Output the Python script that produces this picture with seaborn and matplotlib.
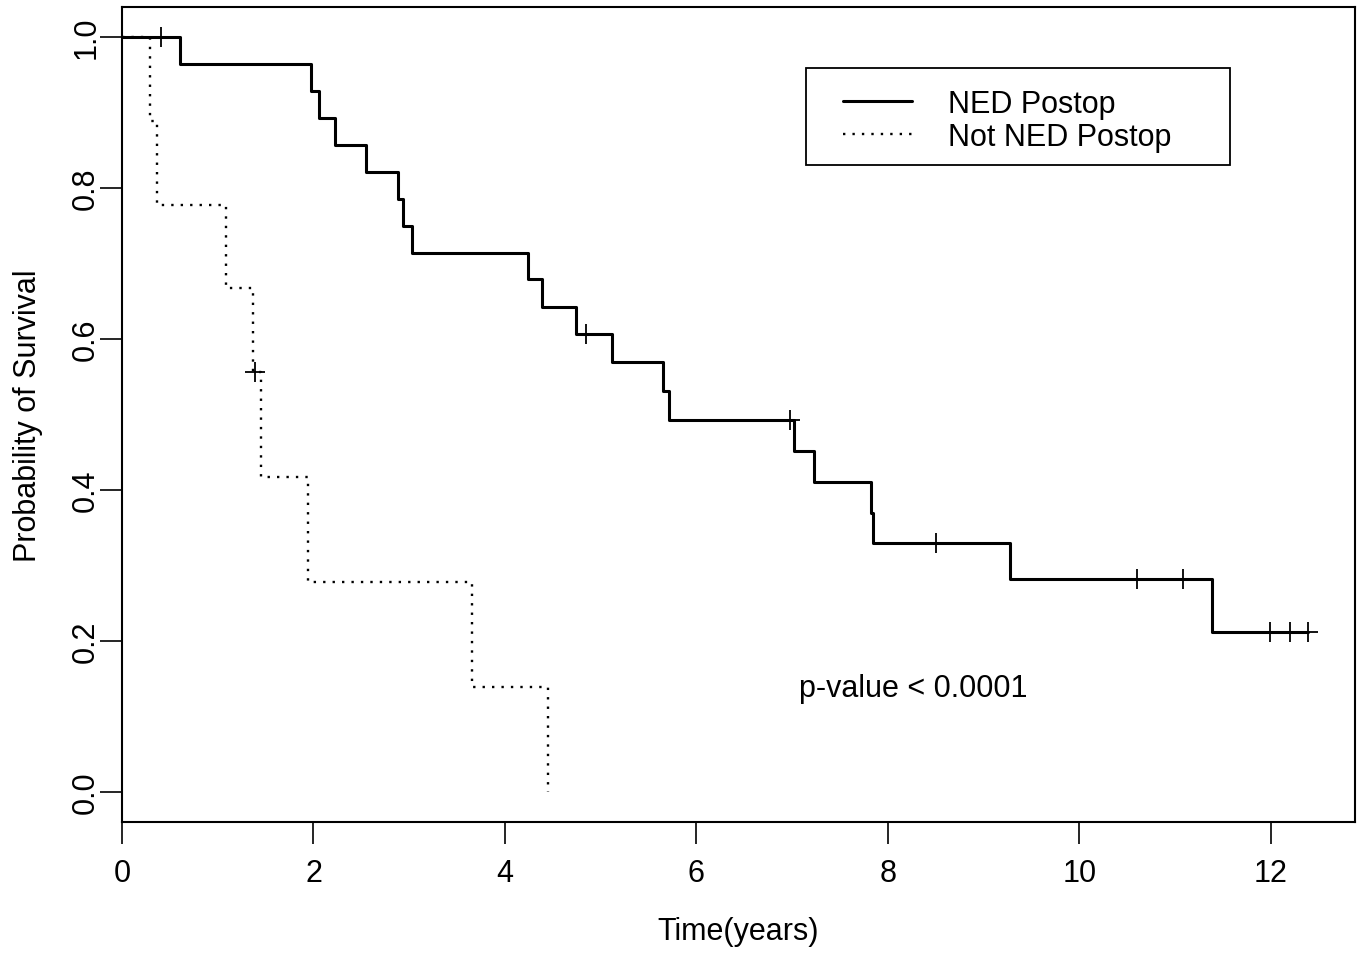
import numpy as np
import pandas as pd
import matplotlib
matplotlib.use("Agg")
import matplotlib.pyplot as plt
from matplotlib.patches import Rectangle
import seaborn as sns

# ---- data ----
ned_times = [0.0, 0.61, 1.97, 2.06, 2.22, 2.55, 2.88, 2.94, 3.03, 4.24, 4.39, 4.74,
             5.12, 5.65, 5.71, 7.02, 7.23, 7.82, 7.85, 9.28, 11.39, 12.39]
ned_surv = [1.0, 0.964, 0.929, 0.893, 0.857, 0.821, 0.786, 0.750, 0.714, 0.679, 0.643, 0.607,
            0.569, 0.531, 0.493, 0.452, 0.410, 0.369, 0.330, 0.282, 0.212, 0.212]
ned_censor = [0.41, 4.85, 6.98, 8.50, 10.60, 11.08, 11.99, 12.20, 12.39]

notned_times = [0.0, 0.29, 0.37, 1.09, 1.37, 1.45, 1.94, 3.66, 4.45]
notned_surv = [1.0, 0.889, 0.778, 0.667, 0.556, 0.417, 0.278, 0.139, 0.0]
notned_censor = [1.39]

x_ticks = [0, 2, 4, 6, 8, 10, 12]
y_ticks = [0.0, 0.2, 0.4, 0.6, 0.8, 1.0]
series_names = ["NED Postop", "Not NED Postop"]


def step_value(times, surv, t):
    idx = np.searchsorted(np.asarray(times), t, side="right") - 1
    return np.asarray(surv)[idx]


sns.set_style("white")
plt.rcParams["font.family"] = ["Liberation Sans", "DejaVu Sans"]
plt.rcParams["text.color"] = "black"
plt.rcParams["axes.labelcolor"] = "black"
plt.rcParams["xtick.color"] = "black"
plt.rcParams["ytick.color"] = "black"

FS = 22
W, H = 1363, 954
L, R, T, B = 122, 1355, 8, 823

fig = plt.figure(figsize=(W / 100, H / 100), dpi=100)
ax = fig.add_axes([L / W, 1 - B / H, (R - L) / W, (B - T) / H])


def ax_x(px):
    return (px - L) / (R - L)


def ax_y(py):
    return 1 - (py - T) / (B - T)


df_ned = pd.DataFrame({"t": ned_times, "s": ned_surv})
df_not = pd.DataFrame({"t": notned_times, "s": notned_surv})

sns.lineplot(data=df_ned, x="t", y="s", ax=ax, color="black", lw=2.2,
             drawstyle="steps-post", estimator=None, sort=False, label=series_names[0])
sns.lineplot(data=df_not, x="t", y="s", ax=ax, color="black", lw=1.7,
             linestyle=(0, (1, 3.0)), drawstyle="steps-post", estimator=None, sort=False,
             label=series_names[1])

cens_ned = pd.DataFrame({"t": ned_censor,
                         "s": step_value(ned_times, ned_surv, np.array(ned_censor))})
cens_not = pd.DataFrame({"t": notned_censor,
                         "s": step_value(notned_times, notned_surv, np.array(notned_censor))})
for cdf in (cens_ned, cens_not):
    sns.scatterplot(data=cdf, x="t", y="s", ax=ax, marker="+", s=220, color="black",
                    linewidth=1.3, legend=False, zorder=5)

ax.set_xlim(0, 12.88)
ax.set_ylim(-0.04, 1.04)
ax.set_xticks(x_ticks)
ax.set_xticklabels([str(v) for v in x_ticks], fontsize=FS)
ax.set_yticks(y_ticks)
ax.set_yticklabels([f"{v:.1f}" for v in y_ticks], fontsize=FS, rotation=90, va="center")
ax.tick_params(axis="both", direction="out", length=16, width=1.2, color="black",
               bottom=True, left=True)
ax.tick_params(axis="x", pad=10)
ax.tick_params(axis="y", pad=-1)
for sp in ax.spines.values():
    sp.set_color("black")
    sp.set_linewidth(1.5)

ax.set_xlabel("Time(years)", fontsize=FS, labelpad=20)
ax.set_ylabel("Probability of Survival", fontsize=FS, labelpad=20)

ax.text(7.07, 0.137, "p-value < 0.0001", fontsize=FS, va="center", ha="left")

# legend entries (no frame) + separate frame box as in the reference
leg = ax.legend(loc="upper left", bbox_to_anchor=(ax_x(843), ax_y(90)),
                frameon=False, fontsize=FS, handlelength=2.25, handletextpad=1.18,
                borderpad=0, labelspacing=0.1, borderaxespad=0)
frame = Rectangle((ax_x(806), ax_y(166)), ax_x(1230) - ax_x(806), ax_y(69) - ax_y(166),
                  transform=ax.transAxes, fill=False, edgecolor="black", lw=1.3, zorder=6)
ax.add_patch(frame)

fig.savefig("out.png", dpi=100, facecolor="white")
